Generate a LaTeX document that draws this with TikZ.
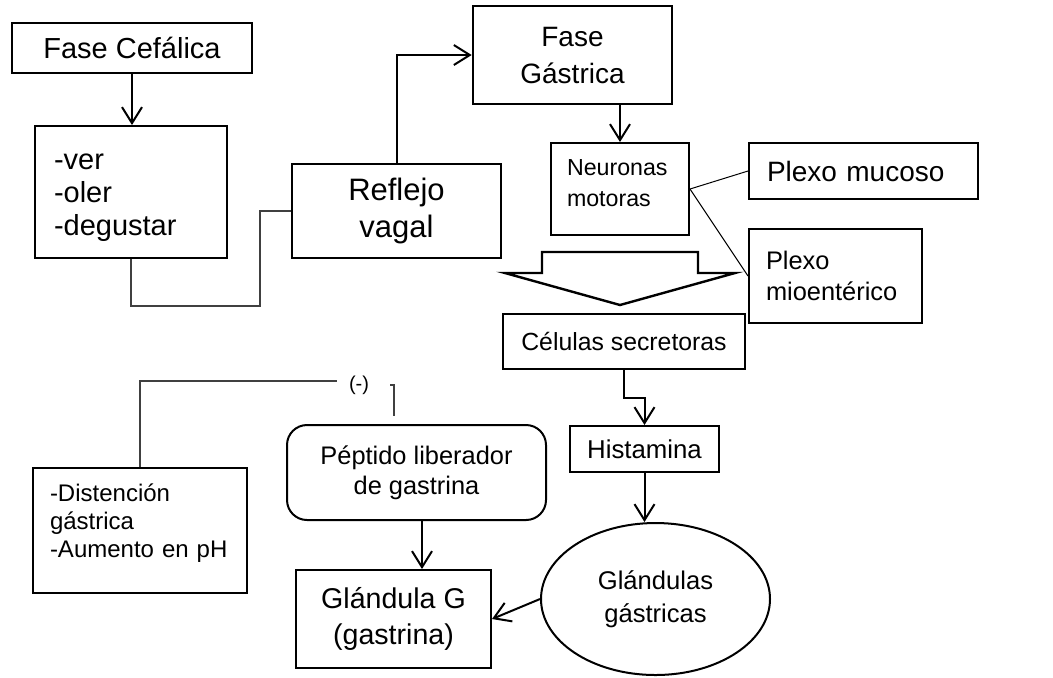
\documentclass[tikz,border=0pt]{standalone}
\usepackage{fontspec}
\setmainfont{Liberation Sans}
\usetikzlibrary{arrows.meta, shapes.geometric}

\begin{document}
\begin{tikzpicture}[x=0.5pt, y=-0.5pt,
	caja/.style={draw, line width=1pt, inner sep=0pt, align=center},
	flecha/.style={line width=1pt, -{Straight Barb[length=8pt, width=10pt]}},
	enlace/.style={line width=0.7pt, black!75},
	]
	\useasboundingbox (0,0) rectangle (1053,677);

	% fase cefalica
	\node[caja, line width=1.3pt, minimum width=120pt, minimum height=25pt, font=\fontsize{14.5}{17}\selectfont] (cef) at (132,48) {Fase Cefálica};
	\node[caja, align=left, text width=77pt, inner xsep=9.5pt, minimum height=66pt, text depth=30pt, font=\fontsize{14.5}{16.5}\selectfont] (sentidos) at (131,192) {-ver\\-oler\\-degustar};
	\node[caja, minimum width=104.5pt, minimum height=47pt, font=\fontsize{15.5}{18.5}\selectfont] (reflejo) at (396.5,211) {Reflejo\\vagal};

	% fase gastrica
	\node[caja, line width=1.3pt, minimum width=99.5pt, minimum height=49pt, font=\fontsize{14}{18.5}\selectfont] (gastrica) at (572.5,55) {Fase\\Gástrica};
	\node[caja, align=left, text width=53pt, inner xsep=8pt, minimum height=46pt, text depth=21pt, font=\fontsize{11.6}{15.5}\selectfont] (neuronas) at (620,189) {Neuronas\\motoras};
	\node[caja, align=left, text width=96.5pt, inner xsep=9pt, minimum height=28pt, font=\fontsize{14}{17}\selectfont] (mucoso) at (863.5,171) {Plexo mucoso};
	\node[caja, align=left, text width=69.5pt, inner xsep=8.5pt, minimum height=47pt, font=\fontsize{12.7}{15.5}\selectfont] (mioent) at (835.5,276) {Plexo\\mioentérico};
	\node[caja, minimum width=121pt, minimum height=27.5pt, font=\fontsize{12.4}{15}\selectfont] (celulas) at (624,341.5) {Células secretoras};
	\node[caja, minimum width=74.5pt, minimum height=23pt, font=\fontsize{12.9}{15}\selectfont] (histamina) at (644.5,449) {Histamina};
	\node[caja, ellipse, minimum width=114.5pt, minimum height=76pt, font=\fontsize{12.8}{16.5}\selectfont] (glandulas) at (655.5,599) {Glándulas\\gástricas};

	% gastrina
	\node[caja, rounded corners=10pt, minimum width=129.5pt, minimum height=47.5pt, font=\fontsize{12.7}{15}\selectfont] (peptido) at (416.5,472.5) {Péptido liberador\\de gastrina};
	\node[caja, minimum width=97.5pt, minimum height=49pt, font=\fontsize{14.3}{18}\selectfont] (glandG) at (393.5,619) {Glándula G\\(gastrina)};
	\node[caja, align=left, text width=90pt, inner xsep=8.5pt, minimum height=62.5pt, text depth=38pt, font=\fontsize{12}{14}\selectfont] (distension) at (140,530.5) {-Distención\\gástrica\\-Aumento en pH};
	\node[inner sep=0pt, font=\fontsize{10}{12}\selectfont] (menos) at (359,385) {(-)};
	\coordinate (tope) at (394,416);

	% flechas
	\draw[flecha] (cef.south) -- (cef.south |- sentidos.north);
	\draw[enlace] (sentidos.south) |- (260,306) |- (reflejo.west);
	\draw[flecha] (reflejo.north) |- (gastrica.west);
	\draw[flecha] (neuronas.north |- gastrica.south) -- (neuronas.north);
	\draw[line width=0.5pt] (neuronas.east) -- (mucoso.west);
	\draw[line width=0.5pt] (neuronas.east) -- (mioent.west);
	\draw[line width=1.2pt] (542,252) -- (698,252) -- (698,273) -- (735,273) -- (620,305) -- (505,273) -- (542,273) -- cycle;
	\draw[flecha] (celulas.south) -- ++(0,28) -| (histamina.north);
	\draw[flecha] (histamina.south) -- (histamina.south |- glandulas.north);
	\draw[flecha] (glandulas.west) -- (glandG.east);
	\draw[flecha] (422,0 |- peptido.south) -- (422,0 |- glandG.north);
	\draw[enlace] (distension.north) |- ([xshift=-6pt,yshift=2pt]menos.west);
	\draw[enlace] ([xshift=10.5pt]menos.east) -| (tope);
\end{tikzpicture}
\end{document}
